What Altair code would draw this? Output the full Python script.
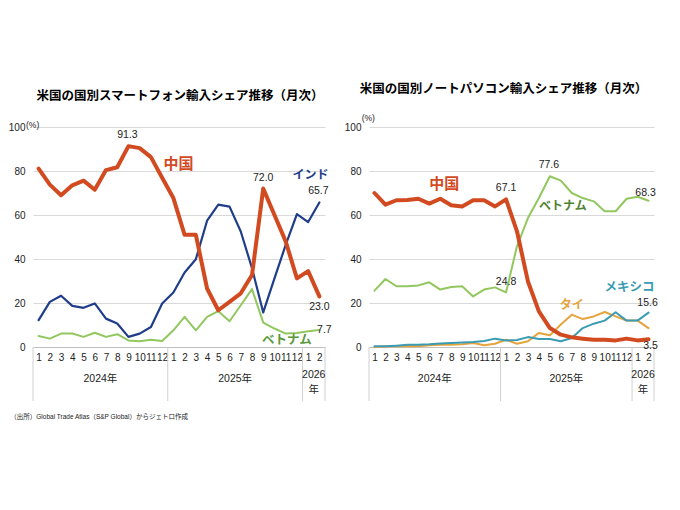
import altair as alt
import pandas as pd

# ---------------- data ----------------
months_idx = list(range(26))  # 2024-01 .. 2026-02
year_labels = ["2024年", "2025年"]
year_centers = [5.5, 17.5]
last_year_label = ["2026\n年"]
last_year_center = [24.5]
separators = [-0.5, 11.5, 23.5, 25.5]

sp_china = [81.1, 73.8, 69.0, 73.5, 75.6, 71.5, 80.4, 81.7, 91.3, 90.4, 86.3, 76.9,
            67.7, 51.0, 51.0, 26.6, 16.7, 20.5, 24.4, 32.7, 72.0, 60.0, 48.0, 31.2,
            34.5, 23.0]
sp_india = [12.2, 20.5, 23.3, 18.7, 17.8, 19.8, 12.9, 10.7, 4.6, 6.1, 9.1, 19.8,
            24.8, 33.9, 39.9, 57.4, 64.7, 63.8, 52.5, 35.8, 15.7, 31.2, 46.4, 60.4,
            56.8, 65.7]
sp_vietnam = [5.0, 3.8, 6.1, 6.1, 4.6, 6.5, 4.6, 5.8, 3.0, 2.6, 3.3, 2.7,
              7.6, 13.7, 7.6, 13.7, 16.3, 11.7, 19.0, 26.3, 11.1, 8.4, 6.1, 6.4,
              7.2, 7.7]

pc_china = [70.0, 64.7, 66.7, 66.8, 67.4, 65.2, 67.4, 64.4, 63.9, 66.7, 66.7, 63.9,
            67.1, 52.6, 29.8, 16.2, 8.6, 5.6, 4.4, 3.8, 3.3, 3.3, 3.0, 3.8,
            3.0, 3.5]
pc_vietnam = [25.6, 30.9, 27.6, 27.6, 28.0, 29.4, 26.1, 27.3, 27.6, 23.0, 26.1, 27.1,
              24.8, 45.8, 58.6, 67.7, 77.6, 75.6, 70.0, 67.7, 66.2, 61.7, 61.7, 67.4,
              68.3, 66.5]
pc_mexico = [0.3, 0.3, 0.6, 1.0, 1.0, 1.2, 1.6, 1.8, 2.1, 2.3, 2.7, 3.8,
             3.0, 3.2, 4.5, 3.6, 3.6, 2.6, 4.1, 8.6, 10.6, 12.0, 15.8, 12.0,
             12.0, 15.6]
pc_thai = [0.0, 0.2, 0.3, 0.5, 0.3, 0.8, 1.0, 1.0, 1.2, 1.8, 0.8, 1.5,
           3.3, 1.5, 2.6, 6.4, 5.3, 10.2, 14.7, 12.7, 13.9, 15.9, 13.9, 12.0,
           12.0, 8.6]

FONT = "Liberation Sans, Noto Sans CJK JP, sans-serif"
RED = "#d24a1f"
NAVY = "#1f3d8a"
GREEN = "#92c760"
TEAL = "#3b9bb3"
ORANGE = "#e6a43c"
H = 220


def panel(series, value_labels, name_labels, width, title, title_dx,
          pct_x, pct_y, footnote=None):
    x_enc = alt.X(
        "i:Q",
        scale=alt.Scale(domain=[-0.5, 25.5], nice=False, zero=False),
        axis=alt.Axis(values=months_idx, labelExpr="datum.value % 12 + 1",
                      ticks=False, grid=False, domainColor="#bfbfbf",
                      labelPadding=5, labelFontSize=10, labelColor="#222",
                      labelFont=FONT, labelFlush=False, labelOverlap=False,
                      labelBound=False, title=None),
    )
    y_enc = alt.Y(
        "v:Q",
        scale=alt.Scale(domain=[0, 100], nice=False),
        axis=alt.Axis(values=[0, 20, 40, 60, 80, 100], grid=True,
                      gridColor="#d9d9d9", domain=False, ticks=False,
                      labelPadding=8, labelFontSize=10, labelColor="#222",
                      labelFont=FONT, title=None),
    )
    layers = []
    # year separators
    sep_df = pd.DataFrame({"i": separators})
    layers.append(alt.Chart(sep_df).mark_rule(color="#d0d0d0", strokeWidth=1).encode(
        x=x_enc, y=alt.value(H), y2=alt.value(H + 54)))
    # year labels
    yl_df = pd.DataFrame({"i": year_centers, "t": year_labels})
    layers.append(alt.Chart(yl_df).mark_text(font=FONT, fontSize=10.5, color="#222",
                                             baseline="middle").encode(
        x=x_enc, y=alt.value(H + 32), text="t:N"))
    ly_df = pd.DataFrame({"i": last_year_center, "t": last_year_label})
    layers.append(alt.Chart(ly_df).mark_text(font=FONT, fontSize=10.5, color="#222",
                                             baseline="top", lineBreak="\n",
                                             lineHeight=15).encode(
        x=x_enc, y=alt.value(H + 23), text="t:N"))
    # lines
    for vals, color, sw in series:
        df = pd.DataFrame({"i": months_idx, "v": vals})
        layers.append(alt.Chart(df).mark_line(color=color, strokeWidth=sw,
                                              strokeJoin="round", strokeCap="round").encode(
            x=x_enc, y=y_enc))
    # value labels
    for vals, i, txt, dx, dy in value_labels:
        df = pd.DataFrame({"i": [i], "v": [vals[i]], "t": [txt]})
        layers.append(alt.Chart(df).mark_text(font=FONT, fontSize=10.5, color="#222",
                                              dx=dx, dy=dy).encode(
            x=x_enc, y=y_enc, text="t:N"))
    # series names
    for vals, i, txt, dx, dy, color, size in name_labels:
        df = pd.DataFrame({"i": [i], "v": [vals[i]], "t": [txt]})
        layers.append(alt.Chart(df).mark_text(font=FONT, fontSize=size, color=color,
                                              fontWeight="bold", dx=dx, dy=dy).encode(
            x=x_enc, y=y_enc, text="t:N"))
    # unit
    layers.append(alt.Chart(pd.DataFrame({"t": ["(%)"]})).mark_text(
        font=FONT, fontSize=8.5, color="#222", align="left", baseline="middle").encode(
        x=alt.value(pct_x), y=alt.value(pct_y), text="t:N"))
    if footnote:
        layers.append(alt.Chart(pd.DataFrame({"t": [footnote]})).mark_text(
            font=FONT, fontSize=6.5, color="#222", align="left", baseline="middle").encode(
            x=alt.value(-22.7), y=alt.value(289.7), text="t:N"))
    return alt.layer(*layers).properties(
        width=width, height=H,
        title=alt.TitleParams(title, fontSize=12.5, fontWeight="bold", font=FONT,
                              color="#000", offset=19, dx=title_dx, anchor="middle"),
    )


left = panel(
    series=[(sp_vietnam, GREEN, 2), (sp_india, NAVY, 2.2), (sp_china, RED, 4)],
    value_labels=[(sp_china, 8, "91.3", -1, -11), (sp_china, 20, "72.0", 0, -11),
                  (sp_india, 25, "65.7", -1, -11), (sp_china, 25, "23.0", 0, 11),
                  (sp_vietnam, 25, "7.7", 5, 0)],
    name_labels=[(sp_china, 12, "中国", 5, -34, RED, 15),
                 (sp_india, 25, "インド", -9, -27, NAVY, 12),
                 (sp_vietnam, 23, "ベトナム", -10, 7, "#5a9a3a", 12.5)],
    width=292, title="米国の国別スマートフォン輸入シェア推移（月次）", title_dx=1,
    pct_x=-7, pct_y=-2,
    footnote="（出所）Global Trade Atlas（S&P Global）からジェトロ作成",
)

right = panel(
    series=[(pc_thai, ORANGE, 2), (pc_mexico, TEAL, 2), (pc_vietnam, GREEN, 2),
            (pc_china, RED, 4)],
    value_labels=[(pc_china, 12, "67.1", 0, -11), (pc_vietnam, 16, "77.6", -1, -11),
                  (pc_vietnam, 24, "68.3", 8, -4), (pc_vietnam, 12, "24.8", 0, -10),
                  (pc_mexico, 25, "15.6", -1, -10), (pc_china, 25, "3.5", 2, 7)],
    name_labels=[(pc_china, 6, "中国", 4, -15, RED, 15),
                 (pc_vietnam, 17, "ベトナム", 2, 25, "#4f8232", 12),
                 (pc_mexico, 25, "メキシコ", -19, -26, TEAL, 12.5),
                 (pc_thai, 18, "タイ", 0, -10, ORANGE, 12)],
    width=285, title="米国の国別ノートパソコン輸入シェア推移（月次）", title_dx=-8,
    pct_x=-7.3, pct_y=-9,
)

chart = alt.hconcat(left, right, spacing=44, bounds="flush").properties(
    padding={"left": 0, "top": 74, "right": 0, "bottom": 0},
    background="white",
).configure_view(stroke=None)

chart.save("out.html", embed_options={"renderer": "svg", "actions": False})
